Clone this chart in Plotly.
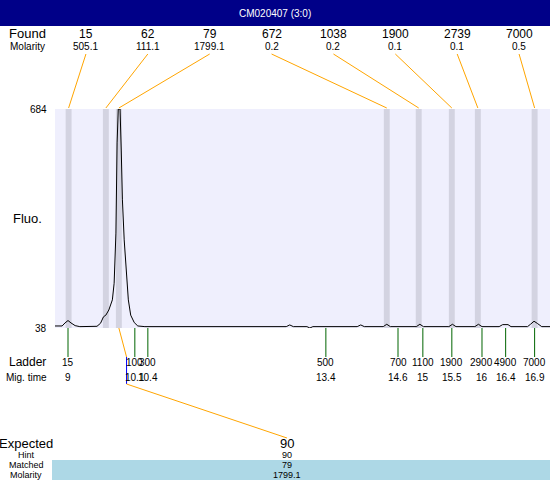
import plotly.graph_objects as go

# electropherogram trace (migration time vs fluorescence)
times = [8.79, 8.91, 8.96, 9.01, 9.06, 9.13, 9.21, 9.50, 9.56, 9.61, 9.65, 9.70,
         9.76, 9.79, 9.82, 9.83, 9.84, 9.86, 9.89, 9.91, 9.93, 9.96, 10.00, 10.03,
         10.07, 10.13, 10.19, 10.31, 12.70, 12.76, 12.82, 13.05, 13.10, 13.15,
         13.90, 13.96, 14.02, 14.34, 14.40, 14.46, 14.90, 14.96, 15.02, 15.45,
         15.51, 15.57, 15.89, 15.95, 16.01, 16.30, 16.36, 16.45, 16.50, 16.78,
         16.83, 16.89, 16.95, 17.02, 17.16]
fluo = [44, 44, 53, 60, 53, 45, 42, 43, 52, 71, 76, 91,
        121, 170, 318, 466, 584, 684, 684, 563, 416, 298, 180, 121,
        76, 54, 44, 42, 42, 47, 42, 42, 38, 42,
        42, 47, 42, 42, 49, 42, 42, 49, 42, 42,
        49, 42, 42, 49, 42, 42, 48, 48, 42, 42,
        49, 58, 51, 42, 42]

found_sizes = ['15', '62', '79', '672', '1038', '1900', '2739', '7000']
found_molarity = ['505.1', '111.1', '1799.1', '0.2', '0.2', '0.1', '0.1', '0.5']
found_times = [9.02, 9.65, 9.87, 14.40, 14.94, 15.50, 15.94, 16.90]

ladder_sizes = ['15', '100', '300', '500', '700', '1100', '1900', '2900', '4900', '7000']
ladder_times = [9.01, 10.14, 10.36, 13.37, 14.59, 15.01, 15.50, 16.01, 16.41, 16.90]

expected_size = '90'
hint_size = '90'
matched_size = '79'
matched_molarity = '1799.1'
expected_time = 10.0
matched_time = 9.87

x_range = [8.79, 17.16]
y_range = [38, 684]

W, H = 550, 480
L, R, T, B = 55, 0, 109, 152
pw, ph = W - L - R, H - T - B
FONT = 'Liberation Sans, Arial, sans-serif'


def px(x):
    return (x - L) / pw


def py(y):
    return (H - B - y) / ph


def tpaper(t):
    return (t - x_range[0]) / (x_range[1] - x_range[0])


fig = go.Figure()
fig.add_trace(go.Scatter(x=times, y=fluo, mode='lines',
                         line=dict(color='black', width=1), hoverinfo='skip'))

shapes = []
annots = []

# title bar
shapes.append(dict(type='rect', xref='paper', yref='paper', x0=px(0), x1=1,
                   y0=py(26), y1=py(0), fillcolor='#000088', line_width=0))
annots.append(dict(text='CM020407 (3:0)', x=0.5 * (px(0) + 1), y=py(13),
                   font=dict(color='white', size=10)))

# found peak bands + connectors
n = len(found_sizes)
for i, (s, m, t) in enumerate(zip(found_sizes, found_molarity, found_times)):
    shapes.append(dict(type='rect', xref='x', yref='paper', x0=t - 0.05, x1=t + 0.05,
                       y0=0, y1=1, fillcolor='#d3d3e1', line_width=0, layer='below'))
    lx = (i + 0.5) / n
    shapes.append(dict(type='line', xref='paper', yref='paper', x0=lx, y0=py(54),
                       x1=tpaper(t), y1=py(108), line=dict(color='orange', width=1)))
    annots.append(dict(text=s, x=lx, y=py(34), font=dict(size=12)))
    annots.append(dict(text=m, x=lx, y=py(47), font=dict(size=10)))

annots.append(dict(text='Found', x=px(27), y=py(34), font=dict(size=13)))
annots.append(dict(text='Molarity', x=px(27), y=py(47), font=dict(size=10)))
annots.append(dict(text='Fluo.', x=px(27), y=0.5, font=dict(size=13)))

# y range labels (min / max fluorescence)
for v in y_range:
    annots.append(dict(text=str(v), x=px(48.5), y=(v - y_range[0]) / (y_range[1] - y_range[0]),
                       font=dict(size=10), xanchor='right'))

# ladder
for s, t in zip(ladder_sizes, ladder_times):
    shapes.append(dict(type='line', xref='x', yref='paper', x0=t, x1=t,
                       y0=0, y1=py(357), line=dict(color='#006400', width=1)))
    annots.append(dict(text=s, x=t, xref='x', y=py(362), font=dict(size=10)))
    annots.append(dict(text=f'{round(t, 1):g}', x=t, xref='x', y=py(377),
                       font=dict(size=10)))
annots.append(dict(text='Ladder', x=px(27), y=py(362), font=dict(size=12)))
annots.append(dict(text='Mig. time', x=px(26), y=py(377), font=dict(size=10)))

# expected / matched
ex = px(287)
shapes.append(dict(type='line', xref='paper', yref='paper', x0=tpaper(matched_time), y0=0,
                   x1=tpaper(expected_time), y1=py(357), line=dict(color='orange', width=1)))
shapes.append(dict(type='line', xref='paper', yref='paper', x0=tpaper(expected_time), y0=py(357),
                   x1=tpaper(expected_time), y1=py(384), line=dict(color='blue', width=1)))
shapes.append(dict(type='line', xref='paper', yref='paper', x0=tpaper(expected_time), y0=py(384),
                   x1=ex, y1=py(438), line=dict(color='orange', width=1)))
shapes.append(dict(type='rect', xref='paper', yref='paper', x0=px(52), x1=1,
                   y0=py(480), y1=py(460), fillcolor='lightblue', line_width=0))

annots.append(dict(text='Expected', x=px(26), y=py(443), font=dict(size=13)))
annots.append(dict(text=expected_size, x=ex, y=py(443), font=dict(size=13)))
annots.append(dict(text='Hint', x=px(26), y=py(455), font=dict(size=9)))
annots.append(dict(text=hint_size, x=ex, y=py(455), font=dict(size=9)))
annots.append(dict(text='Matched', x=px(26), y=py(465), font=dict(size=9)))
annots.append(dict(text=matched_size, x=ex, y=py(465), font=dict(size=9)))
annots.append(dict(text='Molarity', x=px(26), y=py(474.5), font=dict(size=9)))
annots.append(dict(text=matched_molarity, x=ex, y=py(474.5), font=dict(size=9)))

for a in annots:
    a.setdefault('xref', 'paper')
    a['yref'] = 'paper'
    a['showarrow'] = False
    a.setdefault('xanchor', 'center')
    a['yanchor'] = 'middle'

fig.update_layout(
    width=W, height=H,
    margin=dict(l=L, r=R, t=T, b=B, pad=0),
    paper_bgcolor='white', plot_bgcolor='#efeffd',
    font=dict(family=FONT, color='black'),
    showlegend=False,
    shapes=shapes, annotations=annots,
    xaxis=dict(range=x_range, visible=False, fixedrange=True),
    yaxis=dict(range=y_range, showticklabels=False, showgrid=False, zeroline=False,
               showline=False, ticks='', fixedrange=True),
)

fig.write_html("out.html", config={'displayModeBar': False},
               post_script="document.body.style.margin='0';")
